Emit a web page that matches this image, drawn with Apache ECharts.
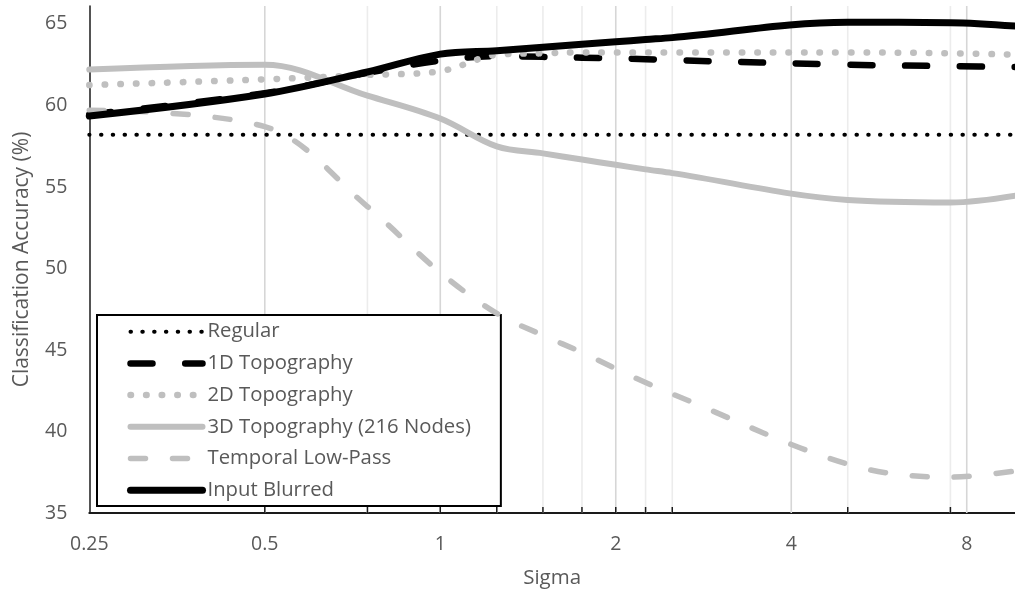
<!DOCTYPE html>
<html>
<head>
<meta charset="utf-8">
<script src="https://cdn.jsdelivr.net/npm/echarts@6/dist/echarts.min.js"></script>
<style>
  html, body { margin: 0; padding: 0; background: #ffffff; }
  #chart { width: 1015px; height: 594px; }
</style>
</head>
<body>
<div id="chart"></div>
<script>
// Blur widths (sigma) that were evaluated
const sigmas = [0.25, 0.5, 0.75, 1, 1.25, 1.5, 1.75, 2, 2.25, 2.5, 5, 7.5, 10];

// Classification accuracy (%) per method
const regular       = [58.2, 58.2, 58.2, 58.2, 58.2, 58.2, 58.2, 58.2, 58.2, 58.2, 58.2, 58.2, 58.2];
const topography1D  = [59.45, 60.75, 62.0, 62.75, 63.03, 62.98, 62.93, 62.89, 62.84, 62.78, 62.5, 62.41, 62.35];
const topography2D  = [61.25, 61.6, 61.87, 62.1, 63.1, 63.2, 63.25, 63.25, 63.25, 63.25, 63.25, 63.2, 63.1];
const topography3D  = [62.2, 62.5, 60.6, 59.2, 57.49, 57.06, 56.68, 56.36, 56.08, 55.85, 54.2, 54.05, 54.55];
const temporalLP    = [59.7, 58.7, 53.8, 49.75, 47.24, 45.9, 44.85, 43.85, 43.0, 42.3, 38.0, 37.2, 37.65];
const inputBlurred  = [59.35, 60.7, 62.05, 63.15, 63.36, 63.57, 63.75, 63.9, 64.04, 64.16, 65.1, 65.08, 64.83];

// Axis decorations
const xTickLabels = [0.25, 0.5, 1, 2, 4, 8];
const yTickLabels = [35, 40, 45, 50, 55, 60, 65];
const majorGrid   = [0.5, 1, 2, 4, 8];
const minorGrid   = [0.75, 1.25, 1.5, 1.75, 2.25, 2.5, 5, 7.5];
const tickMarks   = [0.5, 0.75, 1, 1.25, 1.5, 1.75, 2, 2.25, 2.5, 5, 7.5];

const X_MIN = 0.25, X_MAX = 9.68;
const Y_MIN = 35, Y_MAX = 66.1;

const FONT = '"Open Sans", "Noto Sans", sans-serif';
const TEXT = '#595959';
const GREY = '#bfbfbf';

// line looks shared by the plotted series and their legend swatches
const styles = {
  'Regular':                   { color: '#000000', width: 4,   type: [0.5, 11.3] },
  '1D Topography':             { color: '#000000', width: 6.5, type: [22, 32.7] },
  '2D Topography':             { color: GREY,      width: 6.5, type: [0.5, 15.1] },
  '3D Topography (216 Nodes)': { color: GREY,      width: 6 },
  'Temporal Low-Pass':         { color: GREY,      width: 5.5, type: [15, 27] },
  'Input Blurred':             { color: '#000000', width: 7 }
};

const chart = echarts.init(document.getElementById('chart'), null, { renderer: 'canvas' });

function pairs(values) {
  return sigmas.map((s, i) => [s, values[i]]);
}

function lineStyleOf(name) {
  return Object.assign({ cap: 'round', join: 'round' }, styles[name]);
}

function line(name, values, z) {
  return {
    name: name,
    type: 'line',
    data: pairs(values),
    symbol: 'none',
    showSymbol: false,
    smooth: 0.35,
    silent: true,
    clip: true,
    z: z,
    itemStyle: { color: styles[name].color },
    lineStyle: lineStyleOf(name)
  };
}

// vertical guide lines and inward tick marks at the sampled sigmas
const guideData = majorGrid.map(s => [s, Y_MIN, 1]).concat(minorGrid.map(s => [s, Y_MIN, 0]));

const guides = {
  type: 'custom',
  silent: true,
  z: 1,
  data: guideData,
  encode: { x: 0, y: 1 },
  renderItem: function (params, api) {
    const s = api.value(0);
    const major = api.value(2) === 1;
    const top = api.coord([s, Y_MAX]);
    const bottom = api.coord([s, Y_MIN]);
    const children = [{
      type: 'line',
      shape: { x1: bottom[0], y1: top[1], x2: bottom[0], y2: bottom[1] },
      style: { stroke: major ? '#d6d6d6' : '#ececec', lineWidth: 1.6 }
    }];
    if (tickMarks.indexOf(s) !== -1) {
      children.push({
        type: 'line',
        z2: 10,
        shape: { x1: bottom[0], y1: bottom[1], x2: bottom[0], y2: bottom[1] - 6 },
        style: { stroke: '#1a1a1a', lineWidth: 1.5 }
      });
    }
    return { type: 'group', children: children };
  }
};

const names = Object.keys(styles);

const option = {
  animation: false,
  backgroundColor: '#ffffff',
  grid: { left: 89.3, right: 0, top: 6, bottom: 80, containLabel: false },
  xAxis: {
    type: 'log',
    logBase: 2,
    min: X_MIN,
    max: X_MAX,
    name: 'Sigma',
    nameLocation: 'middle',
    nameGap: 55,
    nameTextStyle: { fontFamily: FONT, fontSize: 20.5, color: TEXT },
    axisLine: { show: true, lineStyle: { color: '#1a1a1a', width: 2 } },
    axisTick: { show: false },
    splitLine: { show: false },
    minorSplitLine: { show: false },
    axisLabel: {
      margin: 21,
      fontFamily: FONT,
      fontSize: 19.5,
      color: TEXT,
      showMaxLabel: false,
      formatter: function (v) {
        const r = Math.round(v * 1000) / 1000;
        return xTickLabels.indexOf(r) !== -1 ? String(r) : '';
      }
    }
  },
  yAxis: {
    type: 'value',
    min: Y_MIN,
    max: Y_MAX,
    interval: 5,
    name: 'Classification Accuracy (%)',
    nameLocation: 'middle',
    nameRotate: 90,
    nameGap: 57,
    nameTextStyle: { fontFamily: FONT, fontSize: 21, color: TEXT },
    axisLine: { show: true, lineStyle: { color: '#1a1a1a', width: 1.5 } },
    axisTick: { show: false },
    splitLine: { show: false },
    axisLabel: {
      margin: 22,
      fontFamily: FONT,
      fontSize: 19.5,
      color: TEXT,
      formatter: function (v) {
        return yTickLabels.indexOf(Math.round(v * 100) / 100) !== -1 ? String(v) : '';
      }
    }
  },
  legend: {
    orient: 'vertical',
    left: 97,
    top: 315,
    padding: [6.7, 30, 5.7, 30],
    itemWidth: 72,
    itemHeight: 14,
    itemGap: 11.7,
    selectedMode: false,
    backgroundColor: '#ffffff',
    borderColor: '#000000',
    borderWidth: 2,
    textStyle: { fontFamily: FONT, fontSize: 20.3, color: TEXT, lineHeight: 20 },
    data: names.map(n => ({
      name: n,
      itemStyle: { color: 'transparent', borderWidth: 0, opacity: 0 },
      lineStyle: lineStyleOf(n)
    }))
  },
  series: [
    guides,
    line('Regular', regular, 3),
    line('1D Topography', topography1D, 4),
    line('2D Topography', topography2D, 5),
    line('3D Topography (216 Nodes)', topography3D, 6),
    line('Temporal Low-Pass', temporalLP, 7),
    line('Input Blurred', inputBlurred, 8)
  ]
};

chart.setOption(option);
</script>
</body>
</html>
